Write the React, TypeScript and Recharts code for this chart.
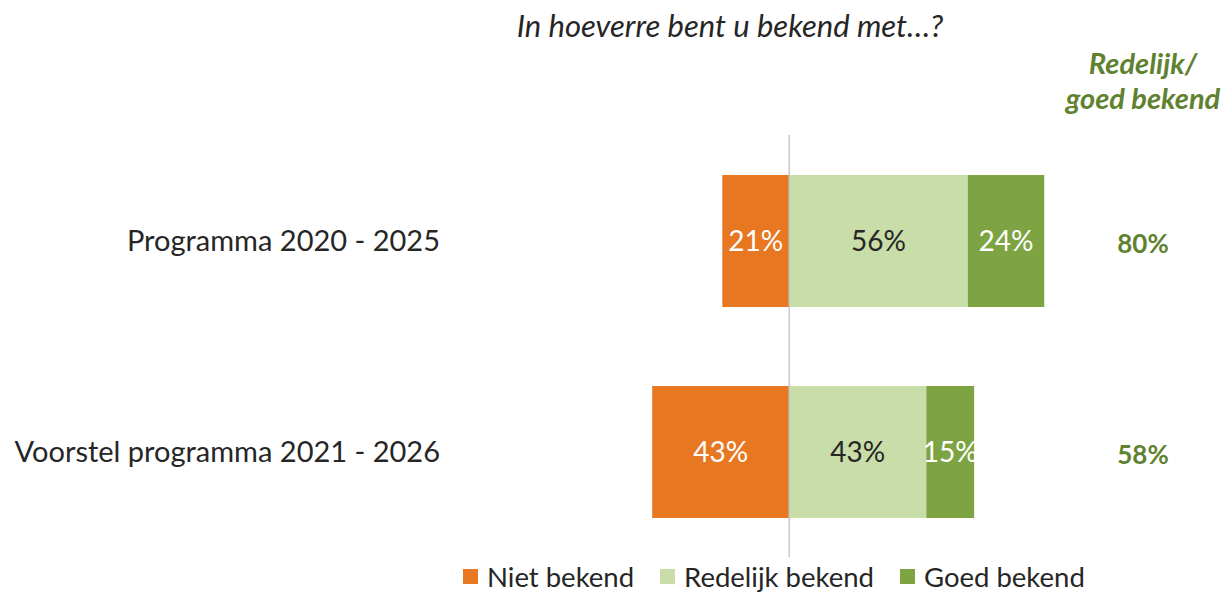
import React from "react";
import {
  BarChart,
  Bar,
  XAxis,
  YAxis,
  Legend,
  LabelList,
  ReferenceLine,
} from "recharts";

const categories = ["Programma 2020 - 2025", "Voorstel programma 2021 - 2026"];
const nietBekend = [21, 43];
const redelijkBekend = [56, 43];
const goedBekend = [24, 15];
const totals = ["80%", "58%"];

const ORANGE = "#E87722";
const LIGHT_GREEN = "#C9DDA9";
const GREEN = "#7DA343";
const TEXT_GREEN = "#5F8230";
const FONT = "Lato, 'Noto Sans', sans-serif";

const legendItems = [
  { label: "Niet bekend", color: ORANGE },
  { label: "Redelijk bekend", color: LIGHT_GREEN },
  { label: "Goed bekend", color: GREEN },
];

// Niet bekend goes to the left of zero, so store it as negative
const data = categories.map((name, i) => ({
  name,
  niet: -nietBekend[i],
  redelijk: redelijkBekend[i],
  goed: goedBekend[i],
  total: totals[i],
}));

const pct = (v: any) => `${Math.abs(Number(v))}%`;

const TotalTick = (props: any) => {
  const { x, y, index } = props;
  return (
    <text
      x={x}
      y={y}
      dy={12}
      textAnchor="middle"
      fill={TEXT_GREEN}
      fontSize={26}
      fontWeight="bold"
      fontFamily={FONT}
    >
      {totals[index]}
    </text>
  );
};

const LegendContent = () => (
  <div
    style={{
      display: "flex",
      alignItems: "center",
      height: 38,
      fontFamily: FONT,
      fontSize: 27.5,
      color: "#262626",
    }}
  >
    {legendItems.map((item) => (
      <div
        key={item.label}
        style={{ display: "flex", alignItems: "center", marginRight: 26 }}
      >
        <span
          style={{
            display: "inline-block",
            width: 15,
            height: 15,
            background: item.color,
            marginRight: 9,
          }}
        />
        {item.label}
      </div>
    ))}
  </div>
);

export default function App() {
  return (
    <div
      style={{
        position: "absolute",
        left: 0,
        top: 0,
        width: 1225,
        height: 595,
        background: "#fff",
        fontFamily: FONT,
      }}
    >
      <div
        style={{
          position: "absolute",
          top: 6,
          left: 0,
          width: 1460,
          textAlign: "center",
          fontStyle: "italic",
          fontSize: 31,
          color: "#262626",
        }}
      >
        In hoeverre bent u bekend met…?
      </div>
      <div
        style={{
          position: "absolute",
          top: 45,
          left: 1143 - 100,
          width: 200,
          textAlign: "center",
          fontStyle: "italic",
          fontWeight: "bold",
          fontSize: 29,
          lineHeight: "35px",
          color: TEXT_GREEN,
        }}
      >
        Redelijk/
        <br />
        goed bekend
      </div>
      <BarChart
        width={1225}
        height={595}
        data={data}
        layout="vertical"
        stackOffset="sign"
        margin={{ top: 135, right: 0, bottom: 0, left: 0 }}
        barSize={132}
      >
        <XAxis type="number" domain={[-60, 100]} hide />
        <YAxis
          type="category"
          dataKey="name"
          width={598}
          axisLine={false}
          tickLine={false}
          tickSize={0}
          tickMargin={158}
          tick={{ fill: "#262626", fontSize: 29, fontFamily: FONT }}
        />
        <YAxis
          yAxisId="right"
          type="category"
          dataKey="name"
          orientation="right"
          width={117}
          axisLine={false}
          tickLine={false}
          tickSize={0}
          tickMargin={35}
          tick={<TotalTick />}
        />
        <Legend
          verticalAlign="bottom"
          content={<LegendContent />}
          wrapperStyle={{ left: 463, bottom: 0, width: "auto" }}
        />
        <Bar dataKey="niet" stackId="a" fill={ORANGE} isAnimationActive={false}>
          <LabelList
            dataKey="niet"
            position="center"
            formatter={pct}
            fill="#fff"
            fontSize={28}
            fontFamily={FONT}
          />
        </Bar>
        <Bar
          dataKey="redelijk"
          stackId="a"
          fill={LIGHT_GREEN}
          isAnimationActive={false}
        >
          <LabelList
            dataKey="redelijk"
            position="center"
            formatter={pct}
            fill="#262626"
            fontSize={28}
            fontFamily={FONT}
          />
        </Bar>
        <Bar dataKey="goed" stackId="a" fill={GREEN} isAnimationActive={false}>
          <LabelList
            dataKey="goed"
            position="center"
            formatter={pct}
            fill="#fff"
            fontSize={28}
            fontFamily={FONT}
          />
        </Bar>
        <ReferenceLine x={0} stroke="#C8C8C8" strokeWidth={1.5} />
      </BarChart>
    </div>
  );
}
